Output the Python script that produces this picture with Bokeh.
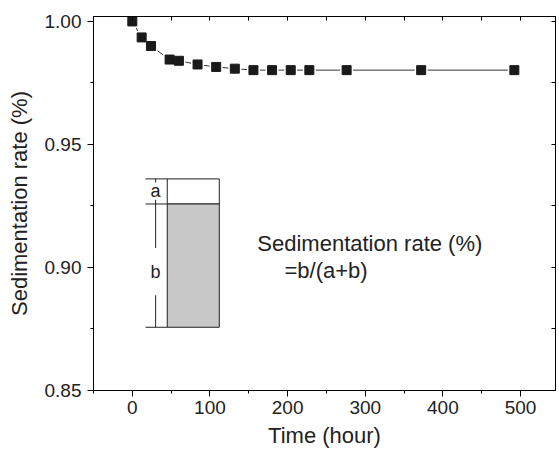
from bokeh.plotting import figure
from bokeh.models import (LinearAxis, Range1d, FixedTicker, Label, ColumnDataSource,
                          CustomJSTickFormatter)
from bokeh.embed import file_html
from bokeh.resources import INLINE

# Sedimentation stability measurements
time_h = [0, 12, 24, 48, 60, 84, 108, 132, 156, 180, 204, 228, 276, 372, 492]
rate = [1.000, 0.9935, 0.990, 0.9845, 0.984, 0.9825, 0.9815, 0.9808, 0.9802,
        0.9802, 0.9802, 0.9802, 0.9802, 0.9802, 0.9802]

x_major = [0, 100, 200, 300, 400, 500]
x_minor = [-50, 50, 150, 250, 350, 450]
y_major = [0.85, 0.90, 0.95, 1.00]
y_minor = [0.875, 0.925, 0.975]

FONT = "Liberation Sans"
INK = "#222222"

p = figure(width=559, height=459, output_backend="svg", toolbar_location=None,
           x_range=Range1d(-50, 545), y_range=Range1d(0.85, 1.002),
           x_axis_label="Time (hour)", y_axis_label="Sedimentation rate (%)",
           min_border_left=93, min_border_right=4, min_border_top=16,
           min_border_bottom=69)
p.grid.visible = False
p.background_fill_color = "white"
p.border_fill_color = "white"
p.outline_line_color = "black"
p.outline_line_width = 1

xa = p.xaxis[0]
xa.ticker = FixedTicker(ticks=x_major, minor_ticks=x_minor)
ya = p.yaxis[0]
ya.ticker = FixedTicker(ticks=y_major, minor_ticks=y_minor)
ya.formatter = CustomJSTickFormatter(code="return tick.toFixed(2);")

for ax in (xa, ya):
    ax.axis_line_color = "black"
    ax.major_tick_line_color = "black"
    ax.minor_tick_line_color = "black"
    ax.major_tick_out = 6
    ax.major_tick_in = 0
    ax.minor_tick_out = 3
    ax.minor_tick_in = 0
    ax.major_label_text_font = FONT
    ax.major_label_text_font_size = "19px"
    ax.major_label_text_color = INK
    ax.axis_label_text_font = FONT
    ax.axis_label_text_font_size = "22px"
    ax.axis_label_text_font_style = "normal"
    ax.axis_label_text_color = INK
xa.major_label_standoff = 4
xa.axis_label_standoff = 6
ya.major_label_standoff = 6
ya.axis_label_standoff = 10

# mirrored frame axes carrying inward ticks only
blank = CustomJSTickFormatter(code="return '';")
top = LinearAxis(ticker=FixedTicker(ticks=x_major + x_minor), formatter=blank,
                 major_tick_in=4, major_tick_out=0, minor_tick_in=0, minor_tick_out=0,
                 axis_line_color="black", major_label_standoff=0)
right = LinearAxis(ticker=FixedTicker(ticks=y_major + y_minor), formatter=blank,
                   major_tick_in=4, major_tick_out=0, minor_tick_in=0, minor_tick_out=0,
                   axis_line_color="black", major_label_standoff=0)
p.add_layout(top, "above")
p.add_layout(right, "right")

src = ColumnDataSource(dict(t=time_h, r=rate))
p.line("t", "r", source=src, line_color="#333333", line_width=1)
# white halo leaves a small gap between the line and each symbol
p.scatter("t", "r", source=src, marker="square", size=13, fill_color="white", line_color=None)
p.scatter("t", "r", source=src, marker="square", size=9, fill_color="#1a1a1a", line_color="#1a1a1a")

# sketch of the settled column: clear layer a above sediment b
col_left, col_right = 45, 112
a_top, ab_edge, b_bottom = 0.936, 0.9258, 0.8757
p.quad(left=col_left, right=col_right, top=a_top, bottom=ab_edge,
       fill_color="white", line_color=INK, line_width=1)
p.quad(left=col_left, right=col_right, top=ab_edge, bottom=b_bottom,
       fill_color="#c8c8c8", line_color=INK, line_width=1)

dim_x = 30
ext_left = 17
for lvl in (a_top, ab_edge, b_bottom):
    p.segment(x0=ext_left, y0=lvl, x1=col_left, y1=lvl, line_color=INK, line_width=1)
p.segment(x0=[dim_x] * 4, y0=[a_top, 0.9275, ab_edge, 0.8887],
          x1=[dim_x] * 4, y1=[0.9345, ab_edge, 0.9079, b_bottom],
          line_color=INK, line_width=1)

p.add_layout(Label(x=dim_x, y=0.9309, text="a", text_align="center", text_baseline="middle",
                   text_font=FONT, text_font_size="18px", text_color=INK))
p.add_layout(Label(x=dim_x, y=0.8983, text="b", text_align="center", text_baseline="middle",
                   text_font=FONT, text_font_size="18px", text_color=INK))

p.add_layout(Label(x=161, y=0.9099, text="Sedimentation rate (%)", text_baseline="middle",
                   text_font=FONT, text_font_size="22px", text_color=INK))
p.add_layout(Label(x=196, y=0.8989, text="=b/(a+b)", text_baseline="middle",
                   text_font=FONT, text_font_size="22px", text_color=INK))

open("out.html", "w").write(file_html(p, INLINE))
